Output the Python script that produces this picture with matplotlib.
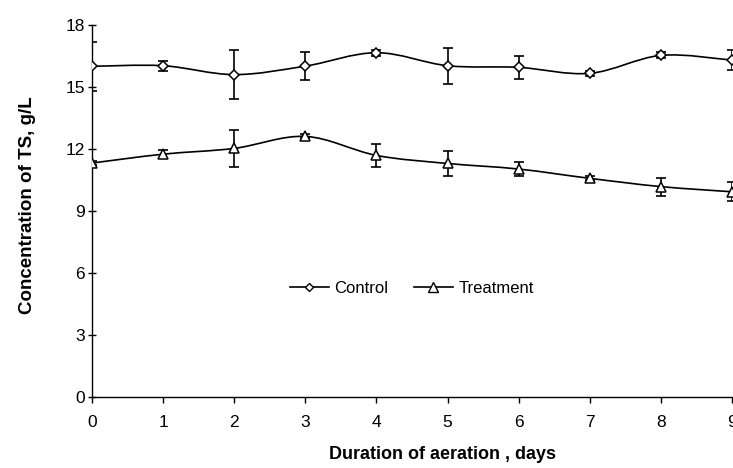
import numpy as np
import matplotlib
matplotlib.use("Agg")
import matplotlib.pyplot as plt
from matplotlib.path import Path
from matplotlib.patches import PathPatch

plt.rcParams['font.family'] = ['Liberation Sans', 'DejaVu Sans']

days = [0, 1, 2, 3, 4, 5, 6, 7, 8, 9]
control = [16.0, 16.03, 15.6, 16.01, 16.66, 16.03, 15.95, 15.66, 16.53, 16.3]
control_err = [1.2, 0.25, 1.17, 0.68, 0.15, 0.87, 0.57, 0.12, 0.15, 0.47]
treatment = [11.32, 11.75, 12.03, 12.61, 11.69, 11.3, 11.03, 10.58, 10.18, 9.93]
treatment_err = [0.1, 0.2, 0.9, 0.1, 0.55, 0.62, 0.34, 0.1, 0.44, 0.47]
xticks = [0, 1, 2, 3, 4, 5, 6, 7, 8, 9]
yticks = [0, 3, 6, 9, 12, 15, 18]


def smooth_path(x, y):
    x = np.asarray(x, float)
    y = np.asarray(y, float)
    verts = [(x[0], y[0])]
    codes = [Path.MOVETO]
    n = len(x)
    for i in range(n - 1):
        p0 = np.array([x[max(i - 1, 0)], y[max(i - 1, 0)]])
        p1 = np.array([x[i], y[i]])
        p2 = np.array([x[i + 1], y[i + 1]])
        p3 = np.array([x[min(i + 2, n - 1)], y[min(i + 2, n - 1)]])
        c1 = p1 + (p2 - p0) / 6.0
        c2 = p2 - (p3 - p1) / 6.0
        verts += [tuple(c1), tuple(c2), tuple(p2)]
        codes += [Path.CURVE4] * 3
    return Path(verts, codes)


fig = plt.figure(figsize=(7.33, 4.68), dpi=100)
ax = fig.add_axes([92 / 733, (468 - 397) / 468, (732 - 92) / 733, (397 - 25) / 468])

for xs, ys in [(days, control), (days, treatment)]:
    ax.add_patch(PathPatch(smooth_path(xs, ys), facecolor='none',
                           edgecolor='black', lw=1.2, zorder=2))

ax.errorbar(days, control, yerr=control_err, fmt='none', ecolor='black',
            elinewidth=1.2, capsize=3.8, capthick=1.2, zorder=3)
ax.errorbar(days, treatment, yerr=treatment_err, fmt='none', ecolor='black',
            elinewidth=1.2, capsize=3.8, capthick=1.2, zorder=3)
ax.plot(days, control, linestyle='none', marker='D', markersize=5.5,
        markerfacecolor='white', markeredgecolor='black', markeredgewidth=1.1, zorder=4)
ax.plot(days, treatment, linestyle='none', marker='^', markersize=7,
        markerfacecolor='white', markeredgecolor='black', markeredgewidth=1.1, zorder=4)

# legend handles
h1, = ax.plot([], [], color='black', lw=1.2, marker='D', markersize=4.5,
              markerfacecolor='white', markeredgecolor='black', markeredgewidth=1.0)
h2, = ax.plot([], [], color='black', lw=1.2, marker='^', markersize=6.5,
              markerfacecolor='white', markeredgecolor='black', markeredgewidth=1.0)
ax.legend([h1, h2], ['Control', 'Treatment'], loc='center', ncol=2,
          bbox_to_anchor=(0.50, 0.293), frameon=False, fontsize=12,
          handlelength=2.3, handletextpad=0.35, columnspacing=1.55)

ax.set_xlim(0, 9)
ax.set_ylim(0, 18)
ax.set_xticks(xticks)
ax.set_yticks(yticks)
ax.spines['top'].set_visible(False)
ax.spines['right'].set_visible(False)
for s in ['left', 'bottom']:
    ax.spines[s].set_linewidth(1.0)
ax.tick_params(axis='y', direction='inout', length=6, width=1.0, labelsize=12.5, pad=2)
ax.tick_params(axis='x', direction='out', length=4, width=1.0, labelsize=12.5, pad=9)

ax.set_xlabel('Duration of aeration , days', fontsize=13, fontweight='bold')
ax.set_ylabel('Concentration of TS, g/L', fontsize=13.5, fontweight='bold')
ax.xaxis.set_label_coords(0.548, -0.132)
ax.yaxis.set_label_coords(-0.087, 0.515)

fig.savefig('out.png', dpi=100)
